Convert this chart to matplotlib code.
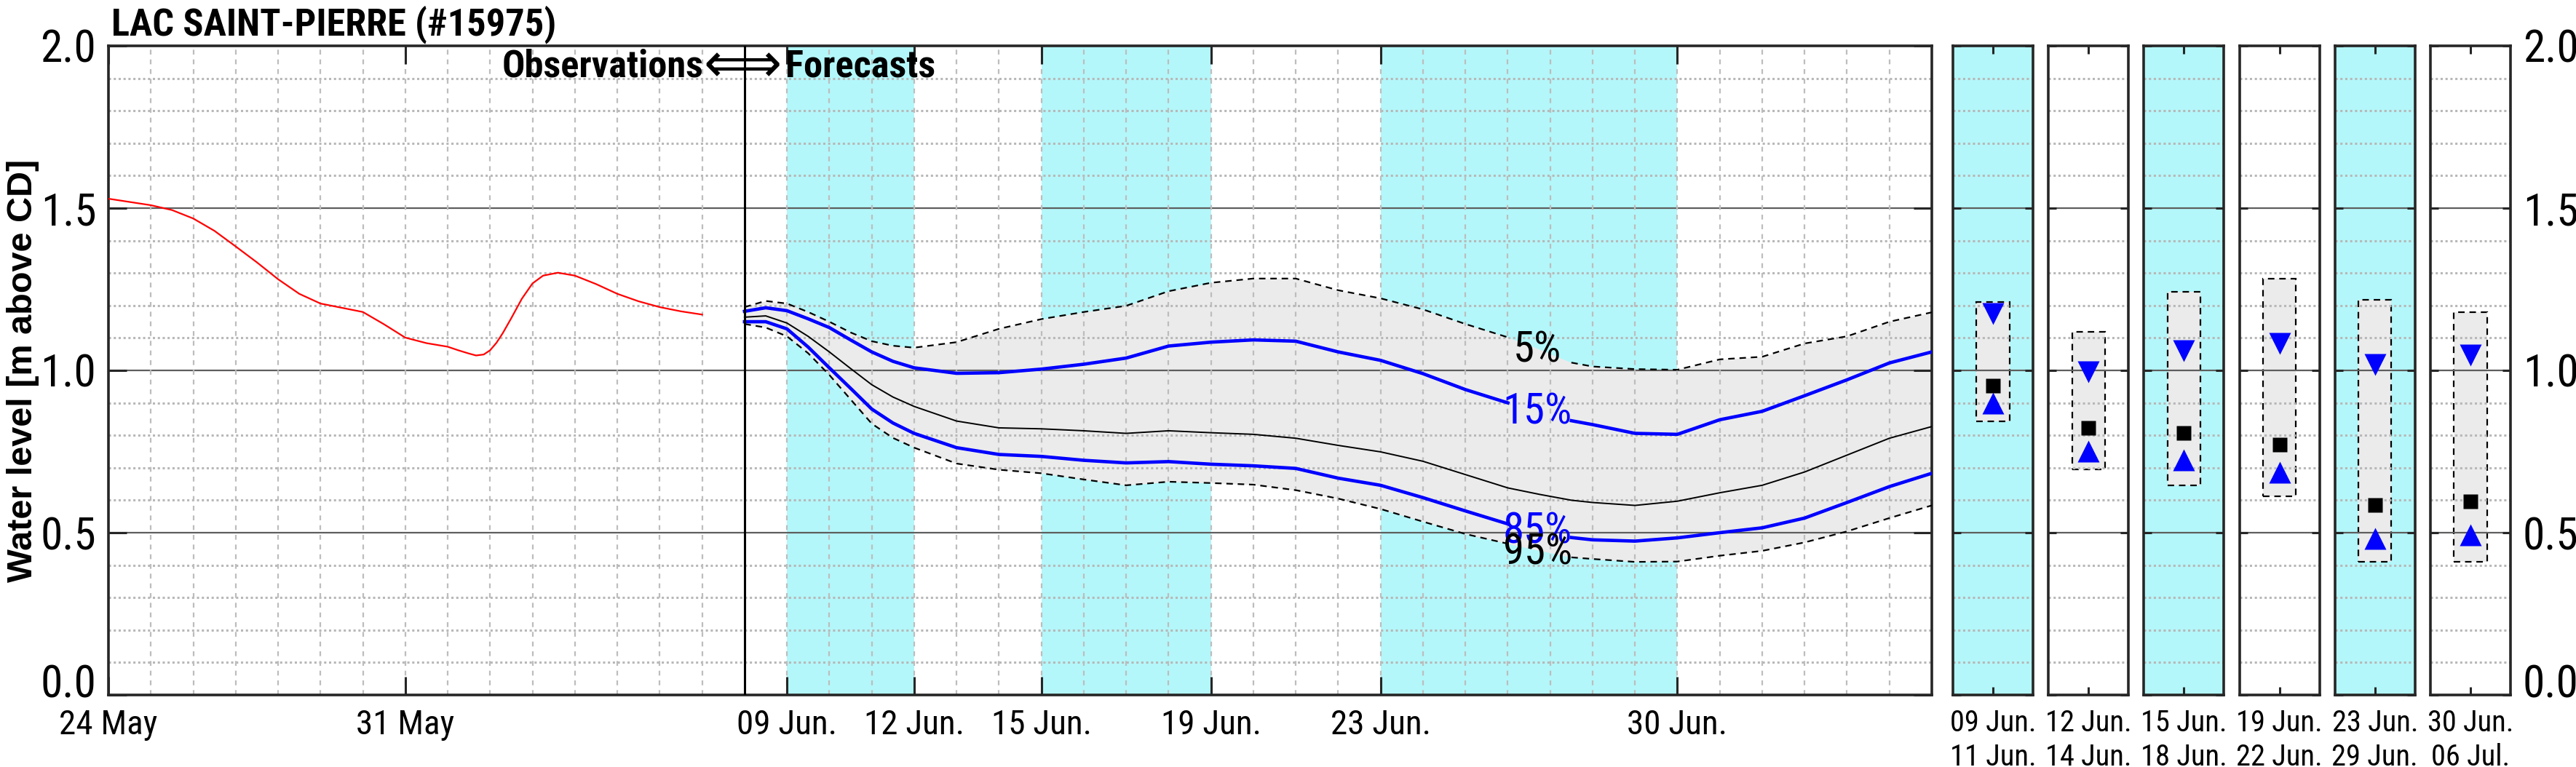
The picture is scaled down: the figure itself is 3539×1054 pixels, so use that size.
import numpy as np
import matplotlib.pyplot as plt
from matplotlib import font_manager
from matplotlib.font_manager import FontProperties
from matplotlib.textpath import TextPath
from matplotlib.transforms import ScaledTranslation

# time axis: days counted from 24 May 00:00
obs_day = [0, 0.5, 1, 1.5, 2, 2.5, 3, 3.5, 4, 4.5, 5, 5.5, 6, 6.5, 7, 7.5, 8, 8.25, 8.5,
           8.67, 8.85, 9, 9.15, 9.3, 9.5, 9.75, 10, 10.25, 10.6, 11, 11.5, 12, 12.5, 13,
           13.5, 14]
obs_level = [1.529, 1.519, 1.509, 1.494, 1.468, 1.430, 1.382, 1.333, 1.281, 1.236, 1.206,
             1.193, 1.180, 1.142, 1.101, 1.084, 1.073, 1.062, 1.052, 1.046, 1.049, 1.062,
             1.085, 1.115, 1.161, 1.221, 1.268, 1.292, 1.301, 1.292, 1.266, 1.236, 1.213,
             1.195, 1.182, 1.172]

fc_day = [15, 15.5, 16, 16.5, 17, 17.5, 18, 18.5, 19, 20, 21, 22, 23, 24, 25, 26, 27, 28,
          29, 30, 31, 32, 33, 33.75, 34.5, 35, 36, 37, 38, 39, 40, 41, 42, 43]
fc_p05 = [1.195, 1.214, 1.206, 1.180, 1.150, 1.117, 1.090, 1.076, 1.070, 1.087, 1.128,
          1.158, 1.180, 1.199, 1.244, 1.270, 1.283, 1.283, 1.247, 1.222, 1.188, 1.143,
          1.102, 1.065, 1.024, 1.012, 1.004, 1.002, 1.034, 1.042, 1.083, 1.105, 1.150, 1.179]
fc_p15 = [1.182, 1.193, 1.184, 1.159, 1.132, 1.094, 1.057, 1.028, 1.008, 0.991, 0.993,
          1.004, 1.019, 1.038, 1.075, 1.087, 1.094, 1.090, 1.057, 1.031, 0.990, 0.941,
          0.900, 0.872, 0.845, 0.833, 0.806, 0.803, 0.848, 0.874, 0.922, 0.971, 1.023, 1.057]
fc_p50 = [1.164, 1.168, 1.146, 1.105, 1.057, 1.006, 0.956, 0.918, 0.889, 0.844, 0.823,
          0.820, 0.814, 0.806, 0.814, 0.808, 0.803, 0.791, 0.769, 0.749, 0.720, 0.679,
          0.638, 0.618, 0.600, 0.593, 0.584, 0.597, 0.623, 0.646, 0.687, 0.739, 0.791, 0.827]
fc_p85 = [1.150, 1.150, 1.128, 1.072, 1.008, 0.945, 0.881, 0.838, 0.806, 0.762, 0.741,
          0.735, 0.723, 0.715, 0.719, 0.711, 0.706, 0.698, 0.668, 0.646, 0.608, 0.567,
          0.527, 0.505, 0.485, 0.478, 0.474, 0.484, 0.500, 0.515, 0.545, 0.593, 0.642, 0.683]
fc_p95 = [1.143, 1.132, 1.105, 1.053, 0.986, 0.911, 0.836, 0.792, 0.762, 0.713, 0.694,
          0.683, 0.664, 0.646, 0.657, 0.653, 0.648, 0.631, 0.605, 0.573, 0.534, 0.496,
          0.466, 0.445, 0.424, 0.419, 0.410, 0.411, 0.429, 0.444, 0.470, 0.504, 0.545, 0.584]

pct_labels = ["5%", "15%", "85%", "95%"]
pct_label_y = [1.063, 0.873, 0.504, 0.44]
pct_label_day = 33.7

shade_start = [16, 22, 30]
shade_end = [19, 26, 37]
tick_days = [0, 7, 16, 19, 22, 26, 30, 37]
tick_names = ["24 May", "31 May", "09 Jun.", "12 Jun.", "15 Jun.", "19 Jun.", "23 Jun.", "30 Jun."]
forecast_start = 15

panel_start = ["09 Jun.", "12 Jun.", "15 Jun.", "19 Jun.", "23 Jun.", "30 Jun."]
panel_end = ["11 Jun.", "14 Jun.", "18 Jun.", "22 Jun.", "29 Jun.", "06 Jul."]
panel_hi = [1.210, 1.119, 1.242, 1.283, 1.218, 1.179]
panel_p15 = [1.176, 0.996, 1.061, 1.084, 1.018, 1.048]
panel_p50 = [0.952, 0.823, 0.807, 0.771, 0.585, 0.596]
panel_p85 = [0.898, 0.751, 0.724, 0.685, 0.483, 0.494]
panel_lo = [0.844, 0.696, 0.646, 0.611, 0.411, 0.411]
panel_shaded = [True, False, True, False, True, False]

level_ticks = [0.0, 0.5, 1.0, 1.5, 2.0]

CYAN = '#b3f7fa'
BAND = '#ebebeb'
FRAME = '#262626'

# narrow face if one is installed, otherwise plain Liberation Sans
have = {f.name for f in font_manager.fontManager.ttflist}
NARROW = 'Liberation Sans'
for cand in ['Liberation Sans Narrow', 'Arial Narrow', 'Nimbus Sans Narrow',
             'Roboto Condensed', 'Noto Sans Condensed', 'Open Sans Condensed']:
    if cand in have:
        NARROW = cand
        break
plt.rcParams['font.family'] = [NARROW, 'DejaVu Sans']


def fit(text, px, weight='normal', family=None):
    # font size (pt) giving the text a width of px pixels at 100 dpi
    fp = FontProperties(family=family or NARROW, weight=weight)
    w = TextPath((0, 0), text, size=100, prop=fp).get_extents().width
    return 100 * px * 0.72 / w


fs_tick = fit('24 May', 120) * 1.1
fs_panel = fit('09 Jun.', 108) * 1.05
fs_y = fit('2.0', 64) * 1.1
fs_title = fit('LAC SAINT-PIERRE (#15975)', 605, 'bold')
fs_obs = fit('Observations', 260, 'bold') * 1.05
fs_arrow = fit('\u27fa', 100, family='DejaVu Sans')
fs_pct = fit('15%', 80) * 1.1

W, H = 3539, 1054
fig = plt.figure(figsize=(W / 100, H / 100), dpi=100)
lift = ScaledTranslation(0, 14 / 72, fig.dpi_scale_trans)


def grid_lines(ax, vertical_days=None):
    for k in range(1, 20):
        y = k / 10
        if k % 5 == 0:
            ax.axhline(y, color='#5e5e5e', lw=1.6, zorder=1)
        else:
            ax.axhline(y, color='#b8b8b8', lw=2.2, ls=(0, (1, 1.2)), zorder=1)
    if vertical_days is not None:
        for d in vertical_days:
            ax.axvline(d, color='#bdbdbd', lw=1.6, ls=(0, (3, 3)), zorder=1)


def frame(ax):
    for s in ax.spines.values():
        s.set_linewidth(2.6)
        s.set_color(FRAME)


def lift_bottom_label(ax):
    # the bottom level label sits a little above its tick, clear of the dates
    t = ax.yaxis.get_major_ticks()[0]
    for lab in (t.label1, t.label2):
        lab.set_transform(lab.get_transform() + lift)


# ---- main time-series axes
ax = fig.add_axes([149 / W, (H - 955) / H, (2654 - 149) / W, (955 - 63) / H])
ax.set_xlim(0, 43)
ax.set_ylim(0, 2)
for a, b in zip(shade_start, shade_end):
    ax.axvspan(a, b, color=CYAN, lw=0, zorder=0.2)
fct = np.array(fc_day)
ax.fill_between(fct, fc_p05, fc_p95, color=BAND, lw=0, zorder=0.5)
grid_lines(ax, [d for d in range(1, 43) if d != forecast_start])

gap = (fct > 33) & (fct < 34.5)
ax.plot(fct, np.ma.masked_where(gap, fc_p05), color='k', lw=1.6, ls=(0, (4, 3)), zorder=3)
ax.plot(fct, np.ma.masked_where(gap, fc_p95), color='k', lw=1.6, ls=(0, (4, 3)), zorder=3)
ax.plot(fct, fc_p50, color='k', lw=1.4, zorder=3)
ax.plot(fct, np.ma.masked_where(gap, fc_p15), color='#0000ff', lw=3.3, zorder=4)
ax.plot(fct, np.ma.masked_where(gap, fc_p85), color='#0000ff', lw=3.3, zorder=4)
ax.plot(obs_day, obs_level, color='#ff0000', lw=1.6, zorder=4)
ax.axvline(forecast_start, color='k', lw=2.2, zorder=5)

for lab, y, c in zip(pct_labels, pct_label_y, ['k', '#0000ff', '#0000ff', 'k']):
    ax.text(pct_label_day, y, lab, color=c, fontsize=fs_pct, ha='center', va='center',
            zorder=6)

ax.text(14.03, 1.935, 'Observations', fontsize=fs_obs, fontweight='bold',
        ha='right', va='center', zorder=6)
ax.text(14.95, 1.935, '\u27fa', fontsize=fs_arrow, family='DejaVu Sans', ha='center',
        va='center', zorder=6)
ax.text(15.97, 1.935, 'Forecasts', fontsize=fs_obs, fontweight='bold',
        ha='left', va='center', zorder=6)

ax.set_xticks(tick_days)
ax.set_xticklabels(tick_names)
ax.set_yticks(level_ticks)
ax.set_yticklabels(['%.1f' % v for v in level_ticks])
ax.tick_params(direction='in', top=True, right=True, length=18, width=2.2,
               color=FRAME, labelsize=fs_tick, pad=14)
ax.tick_params(axis='y', labelsize=fs_y, pad=12)
lift_bottom_label(ax)
ax.set_ylabel('Water level [m above CD]', family='Liberation Sans', fontweight='bold',
              fontsize=35)
ax.yaxis.set_label_coords(-0.038, 0.5)
frame(ax)

fig.text(153 / W, 1 - 48 / H, 'LAC SAINT-PIERRE (#15975)', fontsize=fs_title,
         fontweight='bold', ha='left', va='baseline')

# ---- summary panels
for i in range(len(panel_start)):
    left = 2683 + i * 131.2
    pa = fig.add_axes([left / W, (H - 955) / H, 110 / W, (955 - 63) / H])
    pa.set_xlim(0, 1)
    pa.set_ylim(0, 2)
    if panel_shaded[i]:
        pa.set_facecolor(CYAN)
    pa.bar(0.5, panel_hi[i] - panel_lo[i], bottom=panel_lo[i], width=0.41, color=BAND,
           edgecolor='k', ls=(0, (4, 3)), lw=1.6, zorder=0.5)
    grid_lines(pa)
    pa.plot(0.5, panel_p15[i], 'v', color='#0000ff', ms=22, mec='none', zorder=4)
    pa.plot(0.5, panel_p85[i], '^', color='#0000ff', ms=22, mec='none', zorder=4)
    pa.plot(0.5, panel_p50[i], 's', color='k', ms=15, mec='none', zorder=4)
    pa.set_xticks([0.5])
    pa.set_xticklabels([panel_start[i] + '\n' + panel_end[i]], linespacing=1.25)
    pa.set_yticks(level_ticks)
    last = i == len(panel_start) - 1
    pa.tick_params(direction='in', top=True, right=True, length=8, width=2.2,
                   color=FRAME, labelsize=fs_panel, pad=14, labelleft=False,
                   labelright=last)
    if last:
        pa.set_yticklabels(['%.1f' % v for v in level_ticks])
        pa.tick_params(axis='y', labelsize=fs_y, pad=12)
        lift_bottom_label(pa)
    frame(pa)

fig.savefig('out.png', dpi=100)
